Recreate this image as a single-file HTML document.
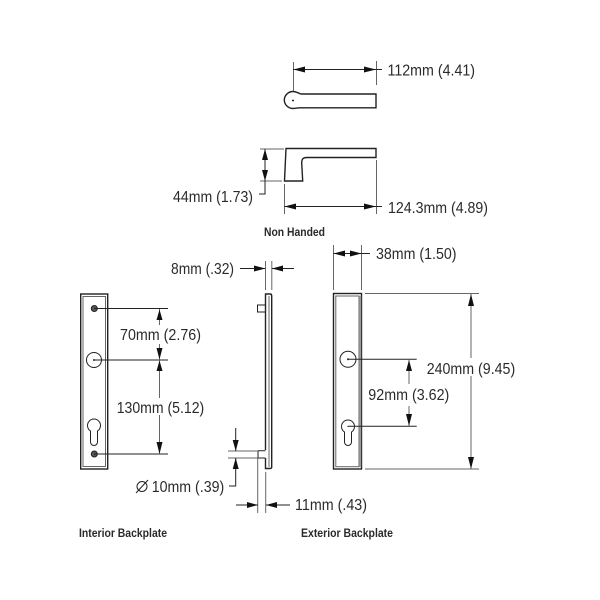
<!DOCTYPE html>
<html>
<head>
<meta charset="utf-8">
<style>
html,body{margin:0;padding:0;background:#fff;}
svg{display:block;filter:blur(0.3px);}
text{font-family:"Liberation Sans",sans-serif;fill:#2a2a2a;font-size:16px;}
text.b{font-weight:bold;font-size:12px;}
.l{stroke:#222;stroke-width:1;fill:none;}
.t{stroke:#222;stroke-width:1.4;fill:none;}
.g{stroke:#666;stroke-width:1;fill:none;}
.a{fill:#111;stroke:none;}
</style>
</head>
<body>
<svg width="600" height="600" viewBox="0 0 600 600" xmlns="http://www.w3.org/2000/svg">
<rect width="600" height="600" fill="#fff"/>

<!-- top handle -->
<path class="t" d="M301 94C298 93 296 91.500 293 91.500A8.700 8.700 0 0 0 284.300 100A8.700 8.700 0 0 0 293 108.500C295 108.500 297 107.800 300 107.800H376V94Z"/>
<path class="l" d="M292 100.500h2M293 99.500v2"/>
<path class="g" d="M293.500 62V91M376.500 61V85"/>
<path class="l" d="M293 69.500H382"/>
<path class="a" d="M293.500 69.500L305 66.500V72.500ZM376 69.500L364 66.500V72.500Z"/>
<text x="387.500" y="75.500" textLength="87.500" lengthAdjust="spacingAndGlyphs">112mm (4.41)</text>

<!-- side handle -->
<path class="t" d="M286 148.500H376V157.500H307C303 157.500 301.700 159 301.700 163L302.700 181H284.500Z"/>
<path class="l" d="M300 175h0"/>
<path class="g" d="M260 149H284M260 181H282M284.500 184V214M376.500 160V214"/>
<path class="l" d="M265 149V194H259M284.500 206.500H382"/>
<path class="a" d="M265 149L262 160H268ZM265 181L262 170H268ZM284.500 206.500L296 203.500V209.500ZM376 206.500L364 203.500V209.500Z"/>
<text x="173" y="202" textLength="80" lengthAdjust="spacingAndGlyphs">44mm (1.73)</text>
<text x="388" y="213" textLength="100" lengthAdjust="spacingAndGlyphs">124.3mm (4.89)</text>
<text class="b" x="264" y="236" textLength="61" lengthAdjust="spacingAndGlyphs">Non Handed</text>

<!-- interior backplate -->
<rect class="t" x="80.700" y="294" width="27" height="175"/>
<rect class="g" x="83" y="296.500" width="22.500" height="170"/>
<circle cx="94.300" cy="308.500" r="3" fill="#555" stroke="#222"/>
<circle cx="94.300" cy="454" r="3" fill="#555" stroke="#222"/>
<circle class="l" cx="94" cy="360" r="7.500"/>
<path class="l" d="M93 360h2M94 359v2"/>
<path class="l" d="M90.500 431A6.500 6.500 0 1 1 97.500 431L97.500 442A3.500 3.500 0 0 1 90.500 442Z"/>
<path class="l" d="M94 308.500H168M94 360H168M94 454H168"/>
<path class="g" d="M159.500 309V325M159.500 344V398M159.500 415V454"/>
<path class="a" d="M159.500 309.500L156.500 320H162.500ZM159.500 359.500L156.500 348H162.500ZM159.500 360.500L156.500 371H162.500ZM159.500 454L156.500 442H162.500Z"/>
<text x="120" y="340" textLength="81" lengthAdjust="spacingAndGlyphs">70mm (2.76)</text>
<text x="116.700" y="413" textLength="87.500" lengthAdjust="spacingAndGlyphs">130mm (5.12)</text>
<text class="b" x="79" y="537" textLength="88" lengthAdjust="spacingAndGlyphs">Interior Backplate</text>

<!-- side view -->
<path class="t" d="M265.500 450V294H270C271.200 294 271.700 295 271.700 296V467C271.700 468 271 468.500 270 468.500H265.500V458"/>
<path class="g" d="M269 296V467"/>
<path class="l" d="M265.500 305H257.500V312H265.500"/>
<path class="g" d="M265.500 261V290M271.800 261V290"/>
<path class="l" d="M240 268.500H265M272 268.500H294"/>
<path class="a" d="M265.500 268.500L254 265.500V271.500ZM272 268.500L283 265.500V271.500Z"/>
<text x="171" y="274" textLength="63" lengthAdjust="spacingAndGlyphs">8mm (.32)</text>

<path class="l" d="M258 450.700V458M258 450.700H265.500M258 458H265.500"/>
<path class="g" d="M228 451H258M228 458H258"/>
<path class="l" d="M235.700 428V451M235.700 458V486H229"/>
<path class="a" d="M235.700 451L232.700 440H238.700ZM235.700 458L232.700 469H238.700Z"/>
<path class="g" d="M257.700 458V513M265.700 472V513"/>
<path class="l" d="M236 505H258M266 505H290"/>
<path class="a" d="M258 505L247 502V508ZM266 505L277 502V508Z"/>
<circle class="l" cx="142" cy="486.500" r="5"/>
<path class="l" d="M136 493L148 480"/>
<text x="151.700" y="492" textLength="72.500" lengthAdjust="spacingAndGlyphs">10mm (.39)</text>
<text x="295" y="510" textLength="72" lengthAdjust="spacingAndGlyphs">11mm (.43)</text>

<!-- exterior backplate -->
<rect class="t" x="333.500" y="293.500" width="28" height="175.500"/>
<rect class="g" x="335.800" y="296" width="23.200" height="170.700"/>
<rect x="359.200" y="296" width="2" height="171" fill="#999"/>
<circle class="l" cx="348" cy="359.300" r="8"/>
<path class="l" d="M347 359.300h2M348 358.300v2"/>
<path class="l" d="M344.500 432A6.500 6.500 0 1 1 351.500 432V442A3.500 3.500 0 0 1 344.500 442Z"/>
<path class="l" d="M347.500 426.500h1M348 359.300H416.700M348 426.300H416.700"/>
<path class="g" d="M409 359.300V384M409 406V426"/>
<path class="a" d="M409 360L406 371H412ZM409 426L406 414H412Z"/>
<text x="368.300" y="400" textLength="81" lengthAdjust="spacingAndGlyphs">92mm (3.62)</text>

<path class="g" d="M333.500 245V290M361.500 245V290"/>
<path class="l" d="M333.500 253.500H370"/>
<path class="a" d="M333.500 253.500L345 250.500V256.500ZM361.500 253.500L350 250.500V256.500Z"/>
<text x="376" y="259" textLength="80.500" lengthAdjust="spacingAndGlyphs">38mm (1.50)</text>

<path class="g" d="M365 293.500H479M365 469H479"/>
<path class="g" d="M471 294V358M471 376V469"/>
<path class="a" d="M471 294L468 306H474ZM471 469L468 457H474Z"/>
<text x="426.700" y="374" textLength="88.500" lengthAdjust="spacingAndGlyphs">240mm (9.45)</text>
<text class="b" x="301" y="537" textLength="92" lengthAdjust="spacingAndGlyphs">Exterior Backplate</text>
</svg>
</body>
</html>
